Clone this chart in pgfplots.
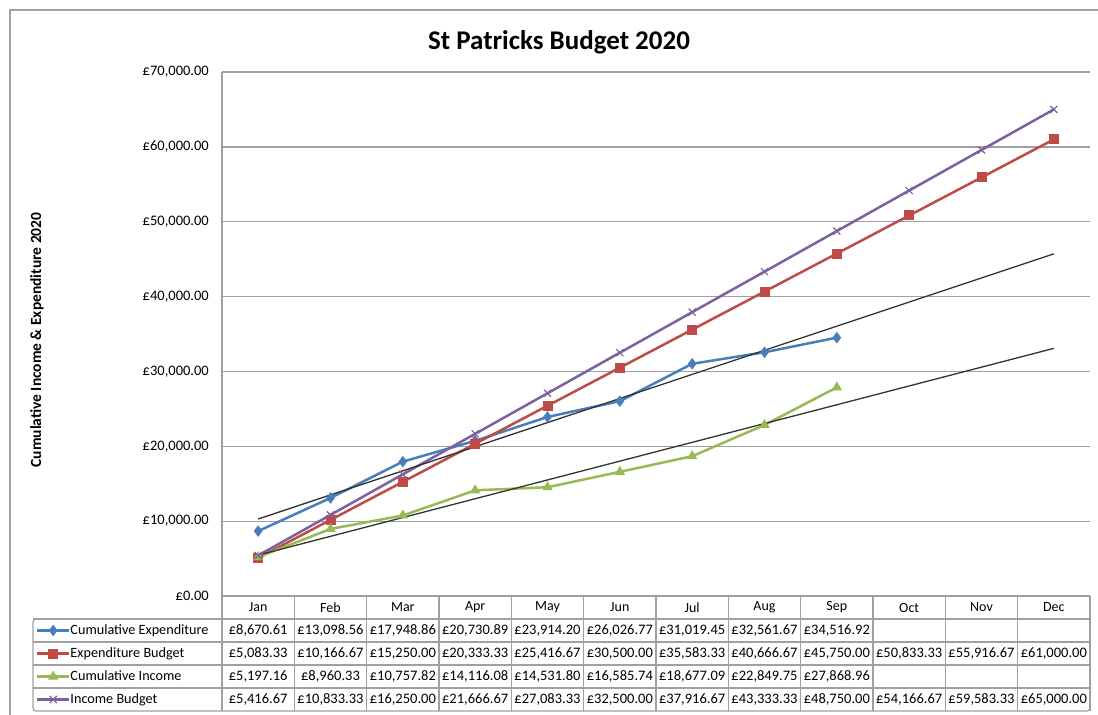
\documentclass[border=0pt]{standalone}
\usepackage{pgfplots}
\pgfplotsset{compat=1.18}
\usepackage{fontspec}
\setmainfont{Carlito}
\definecolor{cblue}{RGB}{74,126,187}
\definecolor{cred}{RGB}{190,75,72}
\definecolor{cgreen}{RGB}{152,185,84}
\definecolor{cpurple}{RGB}{125,96,160}
\definecolor{gridc}{RGB}{160,160,160}
\begin{document}
\begin{tikzpicture}[x=1pt,y=1pt]
\useasboundingbox (0,0) rectangle (1098,-715);
\draw[gridc, line width=1.6pt] (10,-740) -- (10,-10) -- (1120,-10);
\node[font=\fontsize{27}{31}\selectfont\bfseries] at (559,-42) {St Patricks Budget 2020};
\node[rotate=90, font=\fontsize{15.5}{18}\selectfont\bfseries] at (37,-340) {Cumulative Income \& Expenditure 2020};
\begin{axis}[
  at={(222pt,-596pt)}, anchor=south west,
  scale only axis, width=868pt, height=524pt,
  xmin=0.5, xmax=12.5, ymin=0, ymax=70000,
  clip=false,
  scaled y ticks=false,
  axis lines*=left,
  axis line style={gridc, line width=1.3pt},
  ymajorgrids, grid style={gridc, line width=1.3pt},
  major tick length=0pt,
  xtick={1,...,12},
  xticklabels={Jan,Feb,Mar,Apr,May,Jun,Jul,Aug,Sep,Oct,Nov,Dec},
  xticklabel style={font=\fontsize{14}{16}\selectfont, anchor=center, yshift=-11.5pt, inner sep=0pt},
  ytick={0,10000,...,70000},
  yticklabels={{£0.00},{£10,000.00},{£20,000.00},{£30,000.00},{£40,000.00},{£50,000.00},{£60,000.00},{£70,000.00}},
  yticklabel style={font=\fontsize{14.5}{16}\selectfont, anchor=east, inner sep=0pt, xshift=-13pt},
  legend style={at={(axis description cs:-0.2143,-0.04389)}, anchor=north west,
    draw=none, fill=none, inner sep=0pt, outer sep=0pt, row sep=0pt,
    nodes={inner sep=0pt, minimum height=23pt, font=\fontsize{14.2}{16}\selectfont}},
  legend cell align=left,
  legend image code/.code={\draw[mark repeat=2,mark phase=2,#1] plot coordinates {(0pt,0pt) (16pt,0pt) (32pt,0pt)};},
]
\addplot[cblue, line width=2.5pt, mark=diamond*, mark size=5pt, mark options={solid, line width=1pt}] coordinates {
(1,8670.61) (2,13098.56) (3,17948.86) (4,20730.89) (5,23914.20) (6,26026.77) (7,31019.45) (8,32561.67) (9,34516.92)};
\addlegendentry{Cumulative Expenditure}
\addplot[cred, line width=2.5pt, mark=square*, mark size=4.5pt, mark options={solid, line width=1pt}] coordinates {
(1,5083.33) (2,10166.67) (3,15250.00) (4,20333.33) (5,25416.67) (6,30500.00) (7,35583.33) (8,40666.67) (9,45750.00) (10,50833.33) (11,55916.67) (12,61000.00)};
\addlegendentry{Expenditure Budget}
\addplot[cgreen, line width=2.5pt, mark=triangle*, mark size=5pt, mark options={solid, line width=1pt}] coordinates {
(1,5197.16) (2,8960.33) (3,10757.82) (4,14116.08) (5,14531.80) (6,16585.74) (7,18677.09) (8,22849.75) (9,27868.96)};
\addlegendentry{Cumulative Income}
\addplot[cpurple, line width=2.5pt, mark=x, mark size=5pt, mark options={solid, line width=1.2pt}] coordinates {
(1,5416.67) (2,10833.33) (3,16250.00) (4,21666.67) (5,27083.33) (6,32500.00) (7,37916.67) (8,43333.33) (9,48750.00) (10,54166.67) (11,59583.33) (12,65000.00)};
\addlegendentry{Income Budget}
% linear trendlines
\addplot[forget plot, black!80, line width=1.3pt] coordinates {(1,10284.57) (12,45706.66)};
\addplot[forget plot, black!80, line width=1.3pt] coordinates {(1,5460.73) (12,33082.39)};
\end{axis}
% data table
\begin{scope}[gridc, line width=1.3pt]
\foreach \k in {0,...,12} \draw (222+\k*72.333,-596) -- (222+\k*72.333,-711);
\draw (1090,-596) -- (222,-596);
\foreach \yy in {619,642,665,688} \draw (33,-\yy) -- (1090,-\yy);
\draw[rounded corners=3pt] (222,-619) -- (33,-619) -- (33,-711) -- (1090,-711) -- (1090,-596);
\end{scope}
\begin{scope}[font=\fontsize{14.5}{16}\selectfont]
\foreach \v [count=\i] in {{£8,670.61},{£13,098.56},{£17,948.86},{£20,730.89},{£23,914.20},{£26,026.77},{£31,019.45},{£32,561.67},{£34,516.92}}
  \node at (222+\i*72.333-36.17,-630.5) {\v};
\foreach \v [count=\i] in {{£5,083.33},{£10,166.67},{£15,250.00},{£20,333.33},{£25,416.67},{£30,500.00},{£35,583.33},{£40,666.67},{£45,750.00},{£50,833.33},{£55,916.67},{£61,000.00}}
  \node at (222+\i*72.333-36.17,-653.5) {\v};
\foreach \v [count=\i] in {{£5,197.16},{£8,960.33},{£10,757.82},{£14,116.08},{£14,531.80},{£16,585.74},{£18,677.09},{£22,849.75},{£27,868.96}}
  \node at (222+\i*72.333-36.17,-676.5) {\v};
\foreach \v [count=\i] in {{£5,416.67},{£10,833.33},{£16,250.00},{£21,666.67},{£27,083.33},{£32,500.00},{£37,916.67},{£43,333.33},{£48,750.00},{£54,166.67},{£59,583.33},{£65,000.00}}
  \node at (222+\i*72.333-36.17,-699.5) {\v};
\end{scope}
\end{tikzpicture}
\end{document}
